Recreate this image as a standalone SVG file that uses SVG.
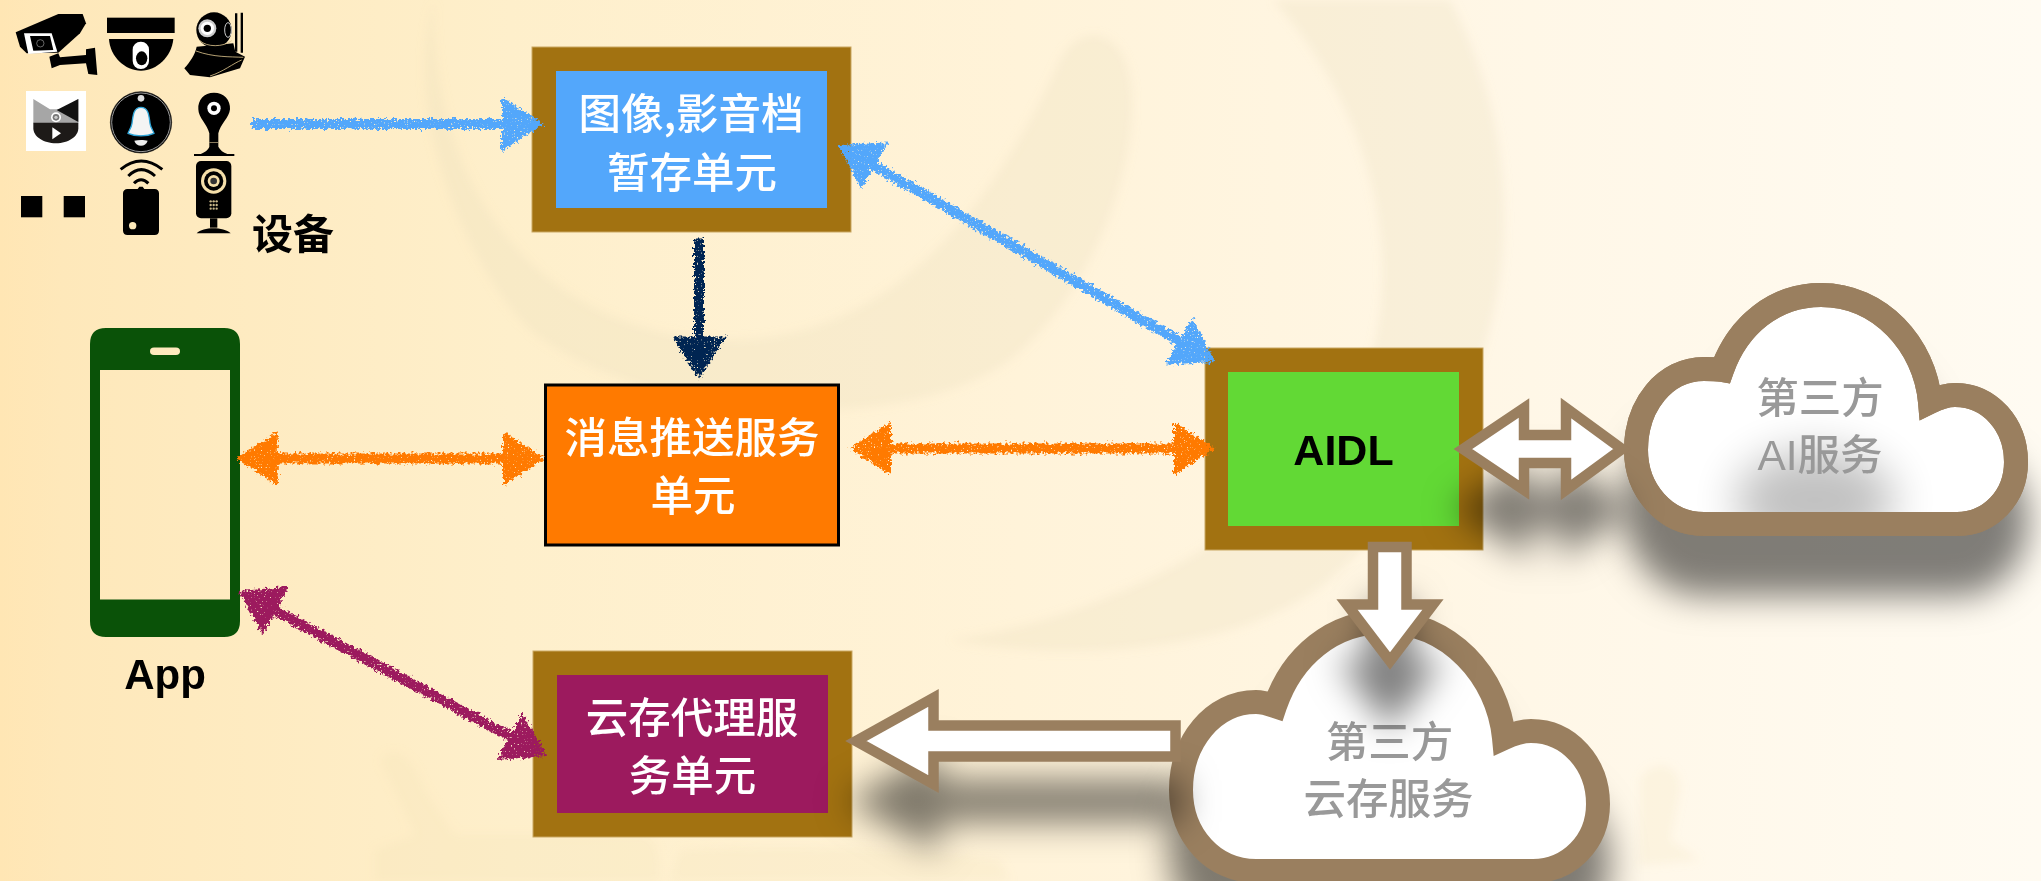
<svg xmlns="http://www.w3.org/2000/svg" width="2041" height="881" viewBox="0 0 2041 881">
<style>
.zh{font-family:"Noto Sans CJK SC","Liberation Sans",sans-serif;font-size:42.5px;font-weight:500;text-anchor:middle}
.w{fill:#fff}
.g{fill:#999}
.en{font-family:"Liberation Sans","Noto Sans CJK SC",sans-serif;font-weight:700;fill:#000;text-anchor:middle}
.frame{fill:#a27211;stroke:#c9a763;stroke-width:1}
.cloud{stroke:#9a7f5f;stroke-width:24;stroke-linejoin:miter;stroke-miterlimit:10}
.thick{fill:#fff;stroke:#9a7f5f;stroke-width:10.5;stroke-linejoin:miter;stroke-miterlimit:10;filter:url(#sh)}
.sk{fill:none;stroke-width:10}
.wm{fill:#e9dcbb;opacity:.26}
.wm2{fill:#f2dfb6;opacity:.2}
</style>
<defs>
<linearGradient id="bg" x1="0" y1="0" x2="1" y2="0">
<stop offset="0" stop-color="#ffe6b4"/><stop offset=".03" stop-color="#fee8ba"/><stop offset=".25" stop-color="#feefcb"/><stop offset=".5" stop-color="#fff3d9"/><stop offset=".75" stop-color="#fff7e7"/><stop offset="1" stop-color="#fffbf2"/>
</linearGradient>
<filter id="sh" filterUnits="userSpaceOnUse" x="0" y="0" width="2041" height="881" color-interpolation-filters="sRGB">
<feDropShadow dx="0" dy="60" stdDeviation="17" flood-color="#000" flood-opacity=".5"/>
</filter>
<filter id="sb" filterUnits="userSpaceOnUse" x="0" y="0" width="2041" height="881"><feGaussianBlur stdDeviation="22"/></filter>
<filter id="soft" filterUnits="userSpaceOnUse" x="0" y="0" width="2041" height="881"><feGaussianBlur stdDeviation="5"/></filter>
<filter id="crayon" filterUnits="userSpaceOnUse" x="0" y="0" width="2041" height="881" color-interpolation-filters="sRGB">
<feTurbulence type="fractalNoise" baseFrequency=".35" numOctaves="2" seed="4" result="n"/>
<feDisplacementMap in="SourceGraphic" in2="n" scale="9" xChannelSelector="R" yChannelSelector="G" result="d"/>
<feTurbulence type="fractalNoise" baseFrequency=".7" numOctaves="1" seed="9"/>
<feColorMatrix type="matrix" values="0 0 0 0 0 0 0 0 0 0 0 0 0 0 0 0 0 0 -9 6.9" result="sp"/>
<feComposite in="d" in2="sp" operator="in"/>
</filter>
<marker id="hb" markerUnits="userSpaceOnUse" markerWidth="44" markerHeight="56" refX="30" refY="28" orient="auto-start-reverse"><path d="M0,1 L42,28 L0,55Z" fill="#53a7fb"/></marker>
<marker id="hd" markerUnits="userSpaceOnUse" markerWidth="44" markerHeight="56" refX="30" refY="28" orient="auto-start-reverse"><path d="M0,1 L42,28 L0,55Z" fill="#002552"/></marker>
<marker id="ho" markerUnits="userSpaceOnUse" markerWidth="44" markerHeight="56" refX="30" refY="28" orient="auto-start-reverse"><path d="M0,1 L42,28 L0,55Z" fill="#ff7a00"/></marker>
<marker id="hp" markerUnits="userSpaceOnUse" markerWidth="44" markerHeight="56" refX="30" refY="28" orient="auto-start-reverse"><path d="M0,1 L42,28 L0,55Z" fill="#9c1a5e"/></marker>
<clipPath id="c1"><path d="M1722,370C1738,325 1775,295 1821,295C1880,295 1925,345 1930,402C1940,397 1947,395 1955,395C1990,395 2016,425 2016,462C2016,497 1990,524 1957,524L1704,524C1665,524 1636,490 1636,450C1636,405 1665,369 1704,369C1710,369 1716,369 1722,370Z"/></clipPath>
</defs>

<rect id="background" width="2041" height="881" fill="url(#bg)"/>
<g id="watermark" filter="url(#soft)">
<path class="wm" d="M434,0C430,180 530,330 720,340C900,345 1000,190 1060,60C1075,30 1110,25 1125,60C1150,120 1110,280 1010,360C900,440 640,420 530,330C470,270 400,120 434,0Z"/>
<path class="wm" d="M1273,0L1450,0C1540,170 1530,400 1330,580C1230,660 1050,660 950,640C1100,620 1250,540 1330,440C1420,320 1390,130 1273,0Z"/>
<path class="wm2" d="M380,760C395,740 415,760 425,790L455,835L640,835C660,835 660,860 660,881L375,881L375,850L415,835Z"/>
<path class="wm2" d="M680,850C760,845 900,845 1000,860L1010,881L670,881Z"/>
<path class="wm2" d="M1640,780C1650,760 1680,760 1680,790L1670,840L1700,860L1640,865Z"/>
</g>

<g id="devices">
<g id="device-squares"><rect x="21" y="196" width="21.3" height="21.3"/><rect x="63.7" y="196" width="21.3" height="21.3"/></g>
<g transform="scale(.33333)">
<g id="device-bullet-camera">
<path d="M47,97L175,42L248,42L258,70L240,100L175,158L80,160L60,140Z"/>
<path d="M72,100L155,100L172,155L85,162Z" fill="#fff"/>
<path d="M90,108L150,108L160,150L100,152Z"/>
<circle cx="121" cy="130" r="11" fill="none" stroke="#999" stroke-width="2"/>
<path d="M148,170L175,160L180,172L258,165L258,148L285,143L292,225L265,222L258,190L180,195L155,205Z"/>
</g>
<g id="device-dome">
<rect x="321" y="53" width="203" height="46"/>
<path d="M327,117L520,117C515,170 470,212 423,212C375,212 330,170 327,117Z"/>
<rect x="398" y="125" width="49" height="82" rx="24" fill="#fff"/>
<ellipse cx="425" cy="175" rx="17" ry="21"/>
</g>
<g id="device-robot">
<path d="M705,40h7v115h-7zM722,38h7v120h-7z"/>
<circle cx="642" cy="90" r="53"/>
<circle cx="622" cy="85" r="27" fill="#ccc"/><circle cx="622" cy="85" r="20" fill="#fff"/><circle cx="622" cy="85" r="11"/>
<ellipse cx="684" cy="90" rx="10" ry="22" fill="none" stroke="#ccc" stroke-width="3"/>
<path d="M590,140L700,130L706,155L735,170L720,205L630,232L570,225L553,205C570,185 585,165 590,140Z"/>
<path d="M588,153C640,172 690,170 730,172M630,228C670,215 700,190 725,180" fill="none" stroke="#d8c08a" stroke-width="2.5"/>
<path d="M600,122C620,142 670,142 695,122" fill="none" stroke="#d8c08a" stroke-width="2.5"/>
</g>
<g id="device-cat">
<rect x="78" y="273" width="180" height="180" fill="#fff"/>
<path d="M100,297L150,328L185,328L235,297L235,370L100,370Z" fill="#a6a6a6"/>
<path d="M235,297L235,366L170,330Z" fill="#111"/>
<path d="M100,368L235,368L235,385C235,410 205,430 168,430C130,430 100,410 100,385Z" fill="#1d1a18"/>
<circle cx="168" cy="352" r="15" fill="#fff"/><circle cx="168" cy="352" r="10" fill="#777"/><circle cx="168" cy="352" r="5" fill="#ccc"/>
<path d="M157,382L183,400L157,418Z" fill="#fff"/>
</g>
<g id="device-doorbell">
<circle cx="423" cy="367" r="92" fill="#000" stroke="#111" stroke-width="2"/>
<circle cx="423" cy="367" r="88" fill="none" stroke="#bbb" stroke-width="2.5"/>
<circle cx="423" cy="295" r="10" fill="#ddd"/>
<path d="M423,322C447,322 447,350 450,370C452,385 460,392 462,400C440,410 406,410 384,400C386,392 394,385 396,370C399,350 399,322 423,322Z" fill="#f4f4f4" stroke="#2fa5d8" stroke-width="4"/>
<path d="M403,422C415,419 432,419 443,422C440,432 432,437 423,437C414,437 406,432 403,422Z" fill="#eee"/>
</g>
<g id="device-webcam">
<path d="M642,278C672,278 692,300 690,328C688,352 660,375 655,400L655,440C660,450 670,458 682,462L602,462C612,458 625,450 628,440L628,400C622,375 595,352 595,328C593,300 612,278 642,278Z"/>
<rect x="582" y="462" width="121" height="6"/>
<circle cx="642" cy="325" r="20" fill="#fff"/><circle cx="642" cy="325" r="9"/>
<rect x="628" y="427" width="27" height="2" fill="#cbb88a"/>
</g>
<g id="device-remote">
<path d="M369,580C369,572 375,567 382,567L413,567L418,560L428,560L433,567L464,567C472,567 477,572 477,580L477,692C477,700 472,705 464,705L382,705C375,705 369,700 369,692Z"/>
<circle cx="398" cy="677" r="11" fill="#fde9ba"/>
<path d="M362,508Q423,458 487,508M385,528Q423,490 465,528M402,550Q423,528 445,550" fill="none" stroke="#000" stroke-width="9"/>
</g>
<g id="device-cam2">
<rect x="588" y="483" width="106" height="172" rx="15"/>
<circle cx="641" cy="543" r="38" fill="#f5dfa9"/><circle cx="641" cy="543" r="29"/><circle cx="641" cy="543" r="18" fill="#f5dfa9"/><circle cx="641" cy="543" r="10" fill="#333"/>
<g fill="#c9b88a"><circle cx="632" cy="604" r="3.5"/><circle cx="641" cy="604" r="3.5"/><circle cx="650" cy="604" r="3.5"/><circle cx="632" cy="615" r="3.5"/><circle cx="641" cy="615" r="3.5"/><circle cx="650" cy="615" r="3.5"/><circle cx="632" cy="626" r="3.5"/><circle cx="641" cy="626" r="3.5"/><circle cx="650" cy="626" r="3.5"/></g>
<rect x="630" y="655" width="22" height="28"/>
<path d="M590,700C610,680 670,680 692,700Z"/>
</g>
</g>
<text class="zh" x="293" y="249" style="font-weight:700;font-size:41px" fill="#000">设备</text>
</g>

<g id="node-storage"><rect class="frame" x="532" y="47" width="319" height="185"/><rect x="556" y="71" width="271" height="137" fill="#53a7fb"/><text class="zh w" x="691" y="129">图像,影音档</text><text class="zh w" x="692" y="188">暂存单元</text></g>
<g id="node-push"><rect x="545.5" y="385" width="293" height="160" fill="#ff7a00" stroke="#000" stroke-width="3"/><text class="zh w" x="692" y="453">消息推送服务</text><text class="zh w" x="693" y="511">单元</text></g>
<g id="node-aidl"><rect class="frame" x="1205" y="348" width="278" height="202"/><rect x="1228" y="372" width="231" height="154" fill="#62d935"/><text class="en" x="1343.5" y="465" font-size="43">AIDL</text></g>
<g id="node-proxy"><rect class="frame" x="533" y="651" width="319" height="186"/><rect x="557" y="675" width="271" height="138" fill="#9c1a5e"/><text class="zh w" x="692" y="733">云存代理服</text><text class="zh w" x="692.5" y="791">务单元</text></g>
<g id="node-app"><path fill-rule="evenodd" fill="#0a5208" d="M106,328H224Q240,328 240,344V621Q240,637 224,637H106Q90,637 90,621V344Q90,328 106,328ZM100,370V599.5H230V370ZM154,347.5Q150,347.5 150,351.2Q150,355 154,355H176Q180,355 180,351.2Q180,347.5 176,347.5Z"/><text class="en" x="165" y="689" font-size="42">App</text></g>

<g id="node-ai-cloud">
<path class="cloud" filter="url(#sh)" fill="#fff" d="M1722,370C1738,325 1775,295 1821,295C1880,295 1925,345 1930,402C1940,397 1947,395 1955,395C1990,395 2016,425 2016,462C2016,497 1990,524 1957,524L1704,524C1665,524 1636,490 1636,450C1636,405 1665,369 1704,369C1710,369 1716,369 1722,370Z"/>
<g clip-path="url(#c1)"><ellipse cx="1815" cy="500" rx="80" ry="50" fill="#000" opacity=".24" filter="url(#sb)"/></g>
<path class="cloud" fill="none" d="M1722,370C1738,325 1775,295 1821,295C1880,295 1925,345 1930,402C1940,397 1947,395 1955,395C1990,395 2016,425 2016,462C2016,497 1990,524 1957,524L1704,524C1665,524 1636,490 1636,450C1636,405 1665,369 1704,369C1710,369 1716,369 1722,370Z"/>
<text class="zh g" x="1820" y="413">第三方</text><text class="zh g" x="1820" y="470" style="font-family:'Liberation Sans','Noto Sans CJK SC',sans-serif">AI服务</text>
</g>
<g id="node-cloud-storage">
<path class="cloud" filter="url(#sh)" fill="#fff" d="M1275,706C1292,656 1333,622 1384,622C1449,622 1498,676 1504,738C1515,733 1522,731 1531,731C1569,731 1598,764 1598,804C1598,842 1569,871 1533,871L1256,871C1213,871 1181,835 1181,790C1181,742 1213,702 1256,702C1262,702 1269,704 1275,706Z"/>
<text class="zh g" x="1389.5" y="757">第三方</text><text class="zh g" x="1388.5" y="814">云存服务</text>
</g>

<g id="connectors">
<g filter="url(#crayon)">
<path class="sk" stroke="#53a7fb" marker-end="url(#hb)" d="M252,124L532,124"/>
<path class="sk" stroke="#53a7fb" marker-start="url(#hb)" marker-end="url(#hb)" d="M848.7,151L1204.8,356"/>
<path class="sk" stroke="#002552" marker-end="url(#hd)" d="M699,238.6L699,366.4"/>
<path class="sk" stroke="#ff7a00" marker-start="url(#ho)" marker-end="url(#ho)" d="M861.4,448.6L1203.5,448.6"/>
<path class="sk" stroke="#ff7a00" marker-start="url(#ho)" marker-end="url(#ho)" d="M247.8,458.6L533,458.6"/>
<path class="sk" stroke="#9c1a5e" marker-start="url(#hp)" marker-end="url(#hp)" d="M249.2,596.7L536,750.3"/>
</g>
<polygon class="thick" points="1463,449 1524,408 1524,435 1566,435 1566,408 1622,449 1566,490 1566,463 1524,463 1524,490"/>
<polygon class="thick" points="1373,547 1406.5,547 1406.5,604.5 1433,604.5 1390,661 1347,604.5 1373,604.5"/>
<polygon class="thick" points="856,741 933.5,698 933.5,725.5 1175.5,725.5 1175.5,756.5 933.5,756.5 933.5,784"/>
</g>
</svg>
